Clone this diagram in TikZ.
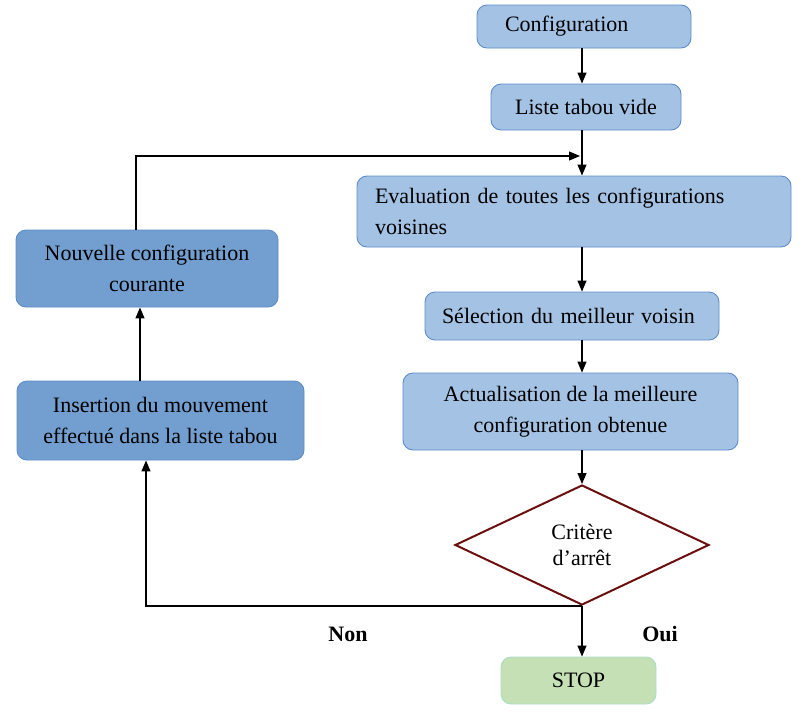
\documentclass[tikz,border=0pt]{standalone}
\usepackage{fontspec}
\setmainfont{Liberation Serif}
\usepackage{xcolor}
\usetikzlibrary{shapes.geometric,arrows.meta,calc}

\definecolor{bleuclair}{HTML}{A4C2E4}
\definecolor{bleufonce}{HTML}{729FCF}
\definecolor{bordbleu}{HTML}{5E8CC8}
\definecolor{vertstop}{HTML}{C5E0B4}
\definecolor{bordvert}{HTML}{A9DCC9}
\definecolor{rougecrit}{HTML}{6B0F0F}

\tikzset{
  boite/.style={draw=bordbleu, line width=0.9pt, rounded corners=10pt,
    fill=bleuclair, font=\fontsize{22}{31}\selectfont, inner ysep=0pt},
  boitefonce/.style={boite, fill=bleufonce},
  fleche/.style={line width=1.2pt, -{Triangle[length=11pt,width=9pt]}},
  etiq/.style={font=\fontsize{22}{26}\selectfont\bfseries}
}

\begin{document}
\begin{tikzpicture}[x=1pt,y=-1pt]
\useasboundingbox (0,0) rectangle (806,718);

% colonne de droite
\node[boite, minimum width=214, minimum height=43, text width=158, inner xsep=28, align=left]
  (conf) at (584,26.5) {Configuration};
\node[boite, minimum width=190, minimum height=46, align=center]
  (liste) at (586,107) {Liste tabou vide};
\node[boite, minimum height=71, text width=398, inner xsep=18, align=left]
  (eval) at (574,211.5) {Evaluation de toutes les configurations\\voisines};
\node[boite, minimum height=48, text width=260, inner xsep=17, align=left]
  (sel) at (572,316) {Sélection du meilleur voisin};
\node[boite, minimum width=335, minimum height=77, align=center]
  (act) at (570.5,411.5) {Actualisation de la meilleure\\configuration obtenue};
\node[diamond, aspect=2.1, draw=rougecrit, line width=2pt, fill=white, inner sep=0pt,
  minimum width=254, minimum height=120, align=center, font=\fontsize{22}{26}\selectfont]
  (crit) at (582,545) {Critère\\d’arrêt};
\node[boite, draw=bordvert, fill=vertstop, minimum width=155, minimum height=47]
  (stop) at (578.5,680.5) {STOP};

% colonne de gauche
\node[boitefonce, minimum width=287, minimum height=79, align=center]
  (ins) at (160.5,420.5) {Insertion du mouvement\\effectué dans la liste tabou};
\node[boitefonce, minimum width=262, minimum height=77, align=center]
  (nouv) at (147,268.5) {Nouvelle configuration\\courante};

\node[etiq] (non) at (348,634) {Non};
\node[etiq] (oui) at (660,634) {Oui};

\coordinate (coin) at (136,156);

% flèches
\draw[fleche] (conf.south -| crit.north) -- (liste.north -| crit.north);
\draw[fleche] (liste.south -| crit.north) -- (eval.north -| crit.north);
\draw[fleche] (eval.south -| crit.north) -- (sel.north -| crit.north);
\draw[fleche] (sel.south -| crit.north) -- (act.north -| crit.north);
\draw[fleche] (act.south -| crit.north) -- (crit.north);
\draw[fleche] (crit.south) -- (stop.north -| crit.south);
\draw[fleche] (crit.south) -| ([xshift=-14.5pt]ins.south);
\draw[fleche] ([xshift=-20.5pt]ins.north) -- ([xshift=-20.5pt]ins.north |- nouv.south);
\draw[fleche, shorten >=2pt] (coin |- nouv.north) -- (coin) -- (coin -| crit.north);

\end{tikzpicture}
\end{document}
